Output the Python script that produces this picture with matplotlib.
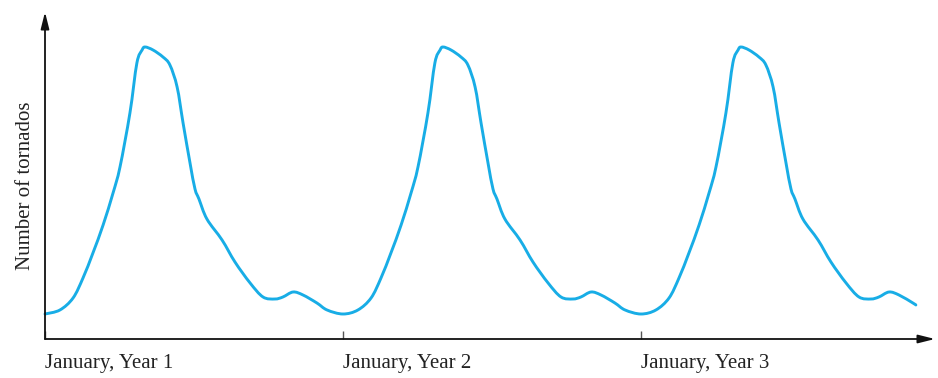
import matplotlib
matplotlib.use("Agg")
import matplotlib.pyplot as plt
from matplotlib.path import Path
from matplotlib.patches import PathPatch

# Time in months since January, Year 1
months = [
    0.00, 0.60, 1.13, 1.53, 1.93, 2.34, 2.74, 3.02, 3.42, 3.70, 3.91, 4.03,
    4.35, 4.75, 5.03, 5.32, 5.56, 5.84, 6.04, 6.20, 6.52, 7.13, 7.65, 8.26,
    8.78, 9.26, 9.58, 9.99, 10.39, 10.95, 11.36,
    12.00, 12.60, 13.13, 13.53, 13.93, 14.34, 14.74, 15.02, 15.42, 15.70, 15.91, 16.03,
    16.35, 16.75, 17.03, 17.32, 17.56, 17.84, 18.04, 18.20, 18.52, 19.13, 19.65, 20.26,
    20.78, 21.26, 21.58, 21.99, 22.39, 22.95, 23.36,
    24.00, 24.60, 25.13, 25.53, 25.93, 26.34, 26.74, 27.02, 27.42, 27.70, 27.91, 28.03,
    28.35, 28.75, 29.03, 29.32, 29.56, 29.84, 30.04, 30.20, 30.52, 31.13, 31.65, 32.26,
    32.78, 33.26, 33.58, 33.99, 34.39, 34.95, 35.07,
]
# Number of tornados (arbitrary units)
tornados = [
    25, 29, 41, 61, 86, 114, 146, 172, 226, 276, 289, 292,
    289, 282, 274, 252, 216, 176, 150, 140, 120, 99, 77, 56,
    42, 40, 42, 47, 44, 36, 29,
    25, 29, 41, 61, 86, 114, 146, 172, 226, 276, 289, 292,
    289, 282, 274, 252, 216, 176, 150, 140, 120, 99, 77, 56,
    42, 40, 42, 47, 44, 36, 29,
    25, 29, 41, 61, 86, 114, 146, 172, 226, 276, 289, 292,
    289, 282, 274, 252, 216, 176, 150, 140, 120, 99, 77, 56,
    42, 40, 42, 47, 44, 36, 34,
]
tick_positions = [0, 12, 24]
tick_labels = ["January, Year 1", "January, Year 2", "January, Year 3"]

plt.rcParams["font.family"] = ["Liberation Serif", "DejaVu Serif"]

fig = plt.figure(figsize=(9.38, 3.78), dpi=100)
ax = fig.add_axes([45 / 938, 1 - 339 / 378, (935 - 45) / 938, (339 - 12) / 378])
ax.set_xlim(0, 35.84)
ax.set_ylim(0, 327)


def smooth_path(xs, ys):
    """Catmull-Rom curve through the data points, as cubic Bezier segments."""
    n = len(xs)
    verts = [(xs[0], ys[0])]
    codes = [Path.MOVETO]
    for i in range(n - 1):
        x0, y0 = (xs[i - 1], ys[i - 1]) if i > 0 else (xs[i], ys[i])
        x1, y1 = xs[i], ys[i]
        x2, y2 = xs[i + 1], ys[i + 1]
        x3, y3 = (xs[i + 2], ys[i + 2]) if i + 2 < n else (xs[i + 1], ys[i + 1])
        c1 = (x1 + (x2 - x0) / 6.0, y1 + (y2 - y0) / 6.0)
        c2 = (x2 - (x3 - x1) / 6.0, y2 - (y3 - y1) / 6.0)
        verts += [c1, c2, (x2, y2)]
        codes += [Path.CURVE4] * 3
    return Path(verts, codes)


ax.add_patch(PathPatch(smooth_path(months, tornados), fill=False, ec="#18ade6",
                       lw=2.1, joinstyle="round", capstyle="round", clip_on=False))

for s in ax.spines.values():
    s.set_visible(False)

axis_color = "#555555"
for tip in [(1, 0), (0, 1)]:
    ax.annotate("", xy=tip, xytext=(0, 0), xycoords="axes fraction",
                arrowprops=dict(arrowstyle="-|>,head_length=1.0,head_width=0.25",
                                color=axis_color, lw=1.3, shrinkA=0, shrinkB=0,
                                fc="#111111", ec="#111111"))

ax.set_xticks(tick_positions)
ax.set_xticklabels(tick_labels, ha="left", fontsize=15, color="#222222")
ax.tick_params(axis="x", direction="in", length=5.5, width=1.0, color=axis_color, pad=11)
ax.set_yticks([])

ax.text(-20 / 890, 0.47, "Number of tornados", rotation=90, transform=ax.transAxes,
        ha="center", va="center", fontsize=15, color="#222222")

fig.savefig("out.png", dpi=100)
